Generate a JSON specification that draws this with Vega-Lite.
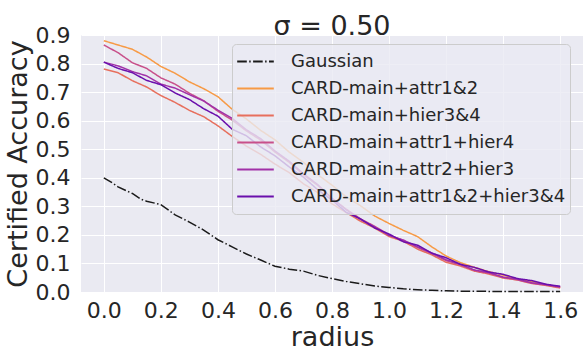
{
  "$schema": "https://vega.github.io/schema/vega-lite/v6.json",
  "autosize": {"type": "none"},
  "padding": {"left": 81, "top": 35, "right": 3, "bottom": 70},
  "width": 502,
  "height": 257,
  "title": {"text": "σ = 0.50", "fontSize": 27, "font": "DejaVu Sans", "fontWeight": "normal", "color": "#262626", "anchor": "middle", "frame": "group", "offset": 3, "dy": 20},
  "data": {"values": [
    {"s": "Gaussian", "r": [0,0.03,0.05,0.1,0.13,0.15,0.2,0.25,0.3,0.35,0.4,0.45,0.5,0.55,0.6,0.65,0.7,0.75,0.8,0.85,0.9,0.95,1.0,1.05,1.1,1.15,1.2,1.25,1.3,1.35,1.4,1.45,1.5,1.55,1.6],
     "v": [0.400,0.382,0.368,0.345,0.325,0.318,0.306,0.270,0.245,0.217,0.183,0.158,0.133,0.112,0.090,0.080,0.073,0.058,0.047,0.037,0.029,0.021,0.016,0.011,0.008,0.006,0.004,0.003,0.003,0.002,0.002,0.002,0.002,0.002,0.002]},
    {"s": "CARD-main+attr1&2", "r": [0,0.05,0.1,0.15,0.2,0.25,0.3,0.35,0.4,0.45,0.5,0.55,0.6,0.65,0.7,0.75,0.8,0.85,0.9,0.95,1.0,1.05,1.1,1.15,1.2,1.25,1.3,1.35,1.4,1.45,1.5,1.55,1.6],
     "v": [0.880,0.865,0.850,0.823,0.790,0.766,0.736,0.712,0.684,0.640,0.606,0.566,0.533,0.490,0.454,0.411,0.374,0.333,0.302,0.266,0.240,0.216,0.194,0.158,0.126,0.103,0.086,0.071,0.059,0.045,0.037,0.025,0.017]},
    {"s": "CARD-main+hier3&4", "r": [0,0.05,0.1,0.15,0.2,0.25,0.3,0.35,0.4,0.45,0.5,0.55,0.6,0.65,0.7,0.75,0.8,0.85,0.9,0.95,1.0,1.05,1.1,1.15,1.2,1.25,1.3,1.35,1.4,1.45,1.5,1.55,1.6],
     "v": [0.781,0.768,0.740,0.718,0.688,0.664,0.636,0.614,0.582,0.545,0.511,0.482,0.448,0.418,0.379,0.348,0.309,0.278,0.248,0.224,0.194,0.178,0.150,0.130,0.104,0.091,0.073,0.063,0.049,0.042,0.030,0.023,0.014]},
    {"s": "CARD-main+attr1+hier4", "r": [0,0.05,0.1,0.15,0.2,0.25,0.3,0.35,0.4,0.45,0.5,0.55,0.6,0.65,0.7,0.75,0.8,0.85,0.9,0.95,1.0,1.05,1.1,1.15,1.2,1.25,1.3,1.35,1.4,1.45,1.5,1.55,1.6],
     "v": [0.865,0.838,0.803,0.783,0.750,0.728,0.696,0.670,0.633,0.602,0.564,0.532,0.490,0.454,0.410,0.373,0.328,0.290,0.256,0.230,0.200,0.180,0.156,0.134,0.110,0.095,0.075,0.066,0.051,0.043,0.031,0.025,0.016]},
    {"s": "CARD-main+attr2+hier3", "r": [0,0.05,0.1,0.15,0.2,0.25,0.3,0.35,0.4,0.45,0.5,0.55,0.6,0.65,0.7,0.75,0.8,0.85,0.9,0.95,1.0,1.05,1.1,1.15,1.2,1.25,1.3,1.35,1.4,1.45,1.5,1.55,1.6],
     "v": [0.805,0.792,0.772,0.757,0.728,0.714,0.691,0.669,0.637,0.608,0.568,0.537,0.494,0.458,0.414,0.376,0.328,0.288,0.254,0.228,0.198,0.182,0.158,0.137,0.113,0.097,0.077,0.068,0.052,0.045,0.032,0.026,0.018]},
    {"s": "CARD-main+attr1&2+hier3&4", "r": [0,0.05,0.1,0.15,0.2,0.25,0.3,0.35,0.4,0.45,0.5,0.55,0.6,0.65,0.7,0.75,0.8,0.85,0.9,0.95,1.0,1.05,1.1,1.15,1.2,1.25,1.3,1.35,1.4,1.45,1.5,1.55,1.6],
     "v": [0.805,0.783,0.768,0.741,0.726,0.697,0.674,0.642,0.616,0.570,0.547,0.508,0.477,0.438,0.402,0.358,0.322,0.279,0.256,0.224,0.203,0.176,0.164,0.136,0.120,0.097,0.086,0.070,0.062,0.047,0.040,0.027,0.020]}
  ]},
  "transform": [{"flatten": ["r", "v"]}],
  "mark": {"type": "line", "strokeWidth": 1.5},
  "encoding": {
    "x": {"field": "r", "type": "quantitative",
      "scale": {"domain": [-0.08, 1.68], "nice": false, "zero": false},
      "axis": {"values": [0,0.2,0.4,0.6,0.8,1.0,1.2,1.4,1.6], "format": ".1f", "title": "radius",
        "titleBaseline": "alphabetic", "titleY": 53, "titleX": 251, "titleAlign": "center"}},
    "y": {"field": "v", "type": "quantitative",
      "scale": {"domain": [0, 0.9], "nice": false},
      "axis": {"values": [0,0.1,0.2,0.3,0.4,0.5,0.6,0.7,0.8,0.9], "format": ".1f", "title": "Certified Accuracy",
        "titleAngle": -90, "titleBaseline": "alphabetic", "titleX": -55, "titleY": 128.5, "titleAlign": "center"}},
    "color": {"field": "s", "type": "nominal", "title": null,
      "scale": {"domain": ["Gaussian","CARD-main+attr1&2","CARD-main+hier3&4","CARD-main+attr1+hier4","CARD-main+attr2+hier3","CARD-main+attr1&2+hier3&4"],
        "range": ["#1a1a1a","#f79a45","#e76f5d","#c8508a","#a131a8","#6a0fac"]}},
    "strokeDash": {"field": "s", "type": "nominal", "title": null,
      "scale": {"domain": ["Gaussian","CARD-main+attr1&2","CARD-main+hier3&4","CARD-main+attr1+hier4","CARD-main+attr2+hier3","CARD-main+attr1&2+hier3&4"],
        "range": [[9.6,2.4,1.5,2.4],[1,0],[1,0],[1,0],[1,0],[1,0]]}}
  },
  "config": {
    "font": "DejaVu Sans",
    "view": {"fill": "#EAEAF2", "stroke": null},
    "axis": {"domain": false, "ticks": false, "tickSize": 0, "grid": true, "gridColor": "#ffffff", "gridWidth": 1,
      "labelFont": "DejaVu Sans", "labelFontSize": 22, "labelColor": "#262626", "titleFont": "DejaVu Sans", "titleFontSize": 27, "titleFontWeight": "normal", "titleColor": "#262626"},
    "axisX": {"labelPadding": 8},
    "axisY": {"labelPadding": 11},
    "legend": {"orient": "none", "legendX": 151, "legendY": 9, "fillColor": "rgba(234,234,242,0.8)", "strokeColor": "#cccccc", "cornerRadius": 4, "padding": 4,
      "symbolType": "stroke", "symbolSize": 1340, "symbolStrokeWidth": 1.8, "clipHeight": 27, "rowPadding": 0,
      "labelFont": "DejaVu Sans", "labelFontSize": 18, "labelColor": "#262626", "labelOffset": 16, "labelLimit": 400}
  }
}
